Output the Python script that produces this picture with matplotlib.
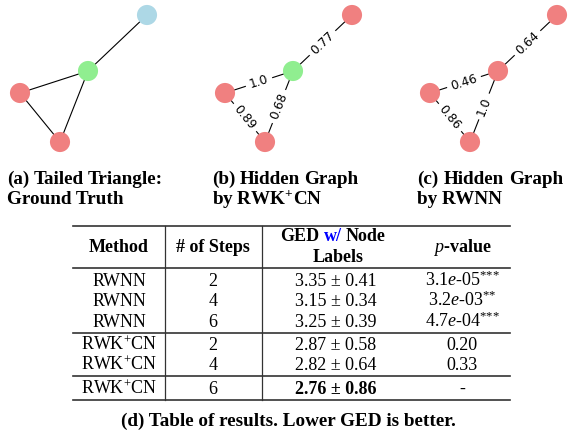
import math
import matplotlib
matplotlib.use("Agg")
import matplotlib.pyplot as plt

plt.rcParams['font.family'] = ['Liberation Serif', 'DejaVu Serif']
plt.rcParams['mathtext.fontset'] = 'custom'
plt.rcParams['mathtext.rm'] = 'Liberation Serif'
plt.rcParams['mathtext.it'] = 'Liberation Serif:italic'
plt.rcParams['mathtext.bf'] = 'Liberation Serif:bold'

# graph layout (same for the three drawings): A left, B bottom, C centre, D tail
node_x = [20, 60, 88, 147]
node_y = [93, 142, 71, 15]
edges = [(0, 2), (0, 1), (1, 2), (2, 3)]

RED = "#F08080"
GREEN = "#90EE90"
BLUE = "#ADD8E6"
colors_a = [RED, RED, GREEN, BLUE]
colors_b = [RED, RED, GREEN, RED]
colors_c = [RED, RED, RED, RED]
weights_b = ["1.0", "0.89", "0.68", "0.77"]
weights_c = ["0.46", "0.86", "1.0", "0.64"]

captions = [["(a) Tailed Triangle:", "Ground Truth"],
            ["(b) Hidden Graph", r"by RWK$^{\mathbf{+}}$CN"],
            ["(c) Hidden Graph", "by RWNN"]]

# table
methods = ["RWNN", "RWNN", "RWNN", "RWK$^{+}$CN", "RWK$^{+}$CN", "RWK$^{+}$CN"]
steps = [2, 4, 6, 2, 4, 6]
ged_mean = [3.35, 3.15, 3.25, 2.87, 2.82, 2.76]
ged_std = [0.41, 0.34, 0.39, 0.58, 0.64, 0.86]
p_values = [r"3.1$\mathit{e}$-05$^{{*}{*}{*}}$", r"3.2$\mathit{e}$-03$^{{*}{*}}$",
            r"4.7$\mathit{e}$-04$^{{*}{*}{*}}$", "0.20", "0.33", "-"]
best_row = 5

fig = plt.figure(figsize=(5.71, 4.34), dpi=100)
ax = fig.add_axes([0, 0, 1, 1])
ax.set_xlim(0, 571)
ax.set_ylim(434, 0)
ax.axis('off')
renderer = fig.canvas.get_renderer()


def width(s, fs, fw='bold'):
    t = ax.text(0, 0, s, fontsize=fs, fontweight=fw)
    w = t.get_window_extent(renderer).width
    t.remove()
    return w


CF = 13.8
cap_w = [156, 146, 146]

panels = [(0, colors_a, None), (205, colors_b, weights_b), (410, colors_c, weights_c)]
for k, (off, cols, wts) in enumerate(panels):
    xs = [x + off for x in node_x]
    for e, (i, j) in enumerate(edges):
        ax.plot([xs[i], xs[j]], [node_y[i], node_y[j]], color='black', lw=0.8, zorder=1)
        if wts is not None:
            mx = (xs[i] + xs[j]) / 2
            my = (node_y[i] + node_y[j]) / 2
            ang = math.degrees(math.atan2(-(node_y[j] - node_y[i]), xs[j] - xs[i]))
            if ang > 90:
                ang -= 180
            if ang < -90:
                ang += 180
            ax.text(mx, my, wts[e], rotation=ang, rotation_mode='anchor',
                    ha='center', va='center', family='DejaVu Sans', fontsize=8.8,
                    bbox=dict(fc='white', ec='none', pad=3), zorder=2)
    ax.scatter(xs, node_y, s=210, c=cols, linewidths=0, zorder=3)

    # first caption line is justified to the column width
    cx = off + 7
    words = captions[k][0].split()
    ws = [width(w, CF) for w in words]
    gap = (cap_w[k] - sum(ws)) / (len(words) - 1)
    cur = cx
    for w, wd in zip(words, ws):
        ax.text(cur, 184, w, ha='left', va='baseline', fontsize=CF, fontweight='bold')
        cur += wd + gap
    ax.text(cx, 204, captions[k][1], ha='left', va='baseline', fontsize=CF, fontweight='bold')

# table rules
LC = '#333333'
x_left, x_right = 73, 510
for y in [226, 268, 333, 376, 400]:
    ax.plot([x_left, x_right], [y, y], color=LC, lw=1.2)
for x in [165, 262]:
    ax.plot([x, x], [226, 400], color=LC, lw=0.9)

col_x = [119, 213, 336, 462]
TF = 13

ax.text(col_x[0], 251.7, "Method", ha='center', va='baseline', fontsize=TF, fontweight='bold')
ax.text(col_x[1], 251.7, "# of Steps", ha='center', va='baseline', fontsize=TF, fontweight='bold')
ax.text(col_x[3], 251.7, r"$\mathit{p}$-value", ha='center', va='baseline', fontsize=TF, fontweight='bold')
ax.text(col_x[2] + 2, 261.7, "Labels", ha='center', va='baseline', fontsize=TF, fontweight='bold')

# "GED w/ Node" with blue "w/"
full = "GED w/ Node"
x0 = col_x[2] - 3 - width(full, TF) / 2
pieces = [("GED", "GED", 'black'), ("GED w/", "w/", 'blue'), (full, "Node", 'black')]
for prefix, piece, c in pieces:
    ax.text(x0 + width(prefix, TF) - width(piece, TF), 241, piece, ha='left', va='baseline',
            fontsize=TF, fontweight='bold', color=c)

for i in range(len(methods)):
    y = 285.7 + 20.5 * i + 2.8 * (i >= 3) + 2.8 * (i >= 5)
    fw = 'bold' if i == best_row else 'normal'
    ax.text(col_x[0], y, methods[i], ha='center', va='baseline', fontsize=TF)
    ax.text(col_x[1], y, str(steps[i]), ha='center', va='baseline', fontsize=TF)
    ax.text(col_x[2], y, f"{ged_mean[i]:.2f} \u00b1 {ged_std[i]:.2f}", ha='center',
            va='baseline', fontsize=TF, fontweight=fw)
    ax.text(col_x[3], y, p_values[i], ha='center', va='baseline', fontsize=TF)

ax.text(288, 426, "(d) Table of results. Lower GED is better.", ha='center',
        va='baseline', fontsize=CF, fontweight='bold')

fig.savefig("out.png", dpi=100)
